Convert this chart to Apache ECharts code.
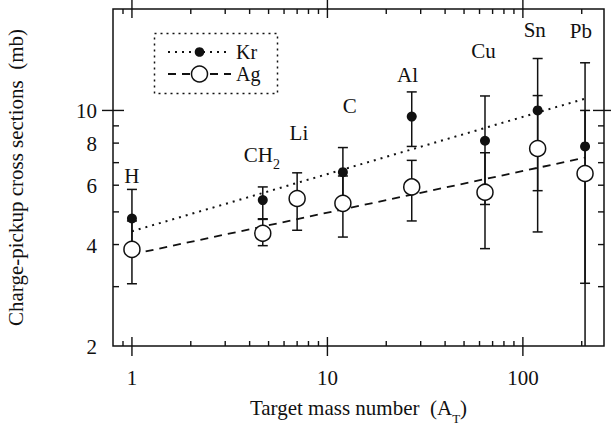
<!DOCTYPE html>
<html><head><meta charset="utf-8">
<script src="https://cdn.jsdelivr.net/npm/echarts@6/dist/echarts.min.js"></script>
<style>html,body{margin:0;padding:0;background:#fff}#c{width:611px;height:425px}</style>
</head><body><div id="c"></div>
<script>
// ---- data ----
const targets = ['H', 'CH2', 'Li', 'C', 'Al', 'Cu', 'Sn', 'Pb'];
const massNumbers = [1, 4.67, 7, 12, 27, 64, 119, 208];
const krValues = [4.78, 5.42, null, 6.56, 9.59, 8.13, 10.0, 7.82];
const krLow    = [3.75, 4.77, null, 5.38, 7.82, 5.26, 5.78, 1.76];
const krHigh   = [5.83, 5.93, null, 7.76, 11.35, 11.04, 14.26, 13.85];
const agValues = [3.87, 4.32, 5.48, 5.30, 5.93, 5.72, 7.71, 6.50];
const agLow    = [3.06, 3.97, 4.41, 4.21, 4.70, 3.89, 4.36, 3.07];
const agHigh   = [4.70, 4.75, 6.53, 6.39, 7.11, 7.49, 11.07, 10.0];
const krFitX = [1, 208];
const krFitY = [4.38, 10.84];
const agFitX = [1, 208];
const agFitY = [3.74, 7.24];
const labelX = [1, 4.62, 7.15, 13.0, 25.7, 62.8, 115, 198];
const labelY = [6.41, 7.40, 8.55, 10.29, 12.73, 15.0, 17.3, 17.2];
const xMajorTicks = [1, 10, 100];
const xMinorTicks = [0.9, 2, 3, 4, 5, 6, 7, 8, 9, 20, 30, 40, 50, 60, 70, 80, 90, 200];
const xTickLabels = [1, 10, 100];
const yMajorTicks = [10];
const yMinorTicks = [3, 4, 5, 6, 7, 8, 9];
const yTickLabels = [2, 4, 6, 8, 10];
const xMin = 0.8, xMax = 260, yMin = 2, yMax = 20;

// ---- style ----
const ink = '#111';
const FONT = '"Liberation Serif", "Times New Roman", serif';
const FS = 21;

const chart = echarts.init(document.getElementById('c'), null, {renderer: 'svg'});

function xTicks(lenIn, lenOut) {
  return function (params, api) {
    const cs = params.coordSys;
    const px = api.coord([api.value(0), yMin])[0];
    const b = cs.y + cs.height, t = cs.y;
    return {type: 'group', children: [
      {type: 'line', shape: {x1: px, y1: b - lenIn, x2: px, y2: b + lenOut}, style: {stroke: ink, lineWidth: 1.4}},
      {type: 'line', shape: {x1: px, y1: t + lenIn, x2: px, y2: t - lenOut}, style: {stroke: ink, lineWidth: 1.4}}
    ]};
  };
}
function yTicks(lenIn, lenOut) {
  return function (params, api) {
    const cs = params.coordSys;
    const py = api.coord([xMin, api.value(1)])[1];
    const l = cs.x, r = cs.x + cs.width;
    return {type: 'group', children: [
      {type: 'line', shape: {x1: l - lenOut, y1: py, x2: l + lenIn, y2: py}, style: {stroke: ink, lineWidth: 1.4}},
      {type: 'line', shape: {x1: r + lenOut, y1: py, x2: r - lenIn, y2: py}, style: {stroke: ink, lineWidth: 1.4}}
    ]};
  };
}
function xLabelRender(params, api) {
  const cs = params.coordSys;
  const px = api.coord([api.value(0), yMin])[0];
  return {type: 'text', style: {text: String(api.value(0)), x: px, y: cs.y + cs.height + 32,
    align: 'center', verticalAlign: 'middle', fontFamily: FONT, fontSize: FS, fill: ink}};
}
function yLabelRender(params, api) {
  const cs = params.coordSys;
  const py = api.coord([xMin, api.value(1)])[1];
  return {type: 'text', style: {text: String(api.value(1)), x: cs.x - 16, y: py + 1,
    align: 'right', verticalAlign: 'middle', fontFamily: FONT, fontSize: FS, fill: ink}};
}
function errRender(params, api) {
  const cs = params.coordSys;
  const x = api.value(0), lo = api.value(1), hi = api.value(2);
  const pt = api.coord([x, hi]), pb = api.coord([x, lo]);
  const px = pt[0];
  const yT = Math.max(pt[1], cs.y), yB = Math.min(pb[1], cs.y + cs.height);
  const w = 5;
  const ch = [{type: 'line', shape: {x1: px, y1: yT, x2: px, y2: yB}, style: {stroke: ink, lineWidth: 1.5}}];
  if (pt[1] >= cs.y) ch.push({type: 'line', shape: {x1: px - w, y1: pt[1], x2: px + w, y2: pt[1]}, style: {stroke: ink, lineWidth: 1.5}});
  if (pb[1] <= cs.y + cs.height) ch.push({type: 'line', shape: {x1: px - w, y1: pb[1], x2: px + w, y2: pb[1]}, style: {stroke: ink, lineWidth: 1.5}});
  return {type: 'group', children: ch};
}

const krPts = massNumbers.map((x, i) => [x, krValues[i]]).filter(d => d[1] != null);
const agPts = massNumbers.map((x, i) => [x, agValues[i]]);
const krErr = massNumbers.map((x, i) => [x, krLow[i], krHigh[i]]).filter(d => d[1] != null);
const agErr = massNumbers.map((x, i) => [x, agLow[i], agHigh[i]]);
const labelData = targets.map((t, i) => [labelX[i], labelY[i], t]);

const legendText = {fontFamily: FONT, fontSize: 20, color: ink, lineHeight: 16};

const option = {
  animation: false,
  backgroundColor: '#fff',
  grid: {left: 113, top: 9, right: 7, bottom: 79, show: true, borderColor: ink, borderWidth: 1.5,
    outerBoundsMode: 'none', containLabel: false},
  xAxis: {
    type: 'log', logBase: 10, min: xMin, max: xMax,
    axisLine: {show: false}, axisTick: {show: false}, axisLabel: {show: false}, splitLine: {show: false},
    name: 'Target mass number  (A{s|T})', nameLocation: 'middle', nameGap: 45,
    nameTextStyle: {fontFamily: FONT, fontSize: FS, color: ink, lineHeight: 34,
      rich: {s: {fontFamily: FONT, fontSize: 13, color: ink, lineHeight: 14, verticalAlign: 'bottom'}}}
  },
  yAxis: {
    type: 'log', logBase: 10, min: yMin, max: yMax,
    axisLine: {show: false}, axisTick: {show: false}, axisLabel: {show: false}, splitLine: {show: false},
    name: 'Charge-pickup cross sections  (mb)', nameLocation: 'middle', nameGap: 87,
    nameTextStyle: {fontFamily: FONT, fontSize: FS, color: ink}
  },
  legend: [
    {data: ['Kr'], left: 167, top: 42, padding: 0, itemWidth: 63, itemHeight: 12, orient: 'vertical',
      textStyle: legendText},
    {data: [{name: 'Ag', itemStyle: {color: '#fff', borderColor: ink, borderWidth: 1.5}}],
      left: 167, top: 64, padding: 0, itemWidth: 63, itemHeight: 20, orient: 'vertical',
      textStyle: legendText}
  ],
  graphic: [
    {type: 'rect', left: 152, top: 31, shape: {width: 123, height: 60},
      style: {fill: 'none', stroke: ink, lineWidth: 1.5, lineDash: [2, 4]}, z: 10}
  ],
  series: [
    {type: 'custom', name: 'xminor', renderItem: xTicks(5, 0), data: xMinorTicks.map(v => [v, yMin]), encode: {x: 0, y: 1}, silent: true, z: 1},
    {type: 'custom', name: 'xmajor', renderItem: xTicks(9, 10), data: xMajorTicks.map(v => [v, yMin]), encode: {x: 0, y: 1}, silent: true, z: 1},
    {type: 'custom', name: 'yminor', renderItem: yTicks(6, 0), data: yMinorTicks.map(v => [xMin, v]), encode: {x: 0, y: 1}, silent: true, z: 1},
    {type: 'custom', name: 'ymajor', renderItem: yTicks(11, 11), data: yMajorTicks.map(v => [xMin, v]), encode: {x: 0, y: 1}, silent: true, z: 1},
    {type: 'custom', name: 'xlabels', renderItem: xLabelRender, data: xTickLabels.map(v => [v, yMin]), encode: {x: 0, y: 1}, silent: true, z: 1},
    {type: 'custom', name: 'ylabels', renderItem: yLabelRender, data: yTickLabels.map(v => [xMin, v]), encode: {x: 0, y: 1}, silent: true, z: 1},
    {type: 'line', name: 'Kr', data: krFitX.map((x, i) => [x, krFitY[i]]), symbol: 'circle', showSymbol: false,
      itemStyle: {color: ink}, lineStyle: {color: ink, width: 2, type: [2, 5]}, silent: true, z: 2},
    {type: 'line', name: 'Ag', data: agFitX.map((x, i) => [x, agFitY[i]]), symbol: 'circle', showSymbol: false,
      itemStyle: {color: '#fff', borderColor: ink, borderWidth: 1.5}, lineStyle: {color: ink, width: 1.8, type: [8, 6]}, silent: true, z: 2},
    {type: 'custom', name: 'krErr', renderItem: errRender, data: krErr, encode: {x: 0, y: [1, 2]}, silent: true, z: 3},
    {type: 'custom', name: 'agErr', renderItem: errRender, data: agErr, encode: {x: 0, y: [1, 2]}, silent: true, z: 3},
    {type: 'scatter', name: 'Kr points', data: krPts, symbol: 'circle', symbolSize: 10,
      itemStyle: {color: ink, opacity: 1}, silent: true, z: 4},
    {type: 'scatter', name: 'Ag points', data: agPts, symbol: 'circle', symbolSize: 16,
      itemStyle: {color: '#fff', borderColor: ink, borderWidth: 1.5, opacity: 1}, silent: true, z: 5},
    {type: 'scatter', name: 'targets', data: labelData, symbol: 'circle', symbolSize: 1,
      itemStyle: {color: '#fff', opacity: 1}, silent: true, z: 6,
      label: {show: true, position: 'inside', fontFamily: FONT, fontSize: FS, color: ink, opacity: 1,
        textBorderWidth: 0, textBorderColor: 'transparent',
        formatter: p => p.value[2] === 'CH2' ? '{n|CH}{s|2}' : p.value[2],
        rich: {n: {fontFamily: FONT, fontSize: FS, color: ink, lineHeight: 34, textBorderWidth: 0},
               s: {fontFamily: FONT, fontSize: 14, color: ink, lineHeight: 14, verticalAlign: 'bottom', textBorderWidth: 0}}}}
  ]
};
chart.setOption(option);
</script>
</body></html>
